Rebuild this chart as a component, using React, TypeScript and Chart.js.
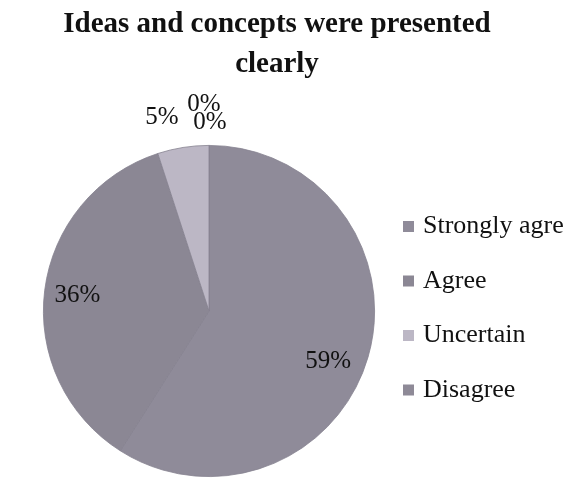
import { useEffect, useRef } from "react";
import { Chart, registerables } from "chart.js";

Chart.register(...registerables);

const titleLines = ["Ideas and concepts were presented", "clearly"];
const categories = ["Strongly agre", "Agree", "Uncertain", "Disagree", "Strongly disagree"];
const legendCount = 4;
const values = [59, 36, 5, 0, 0];
const valueLabels = ["59%", "36%", "5%", "0%", "0%"];
const sliceColors = ["#8f8b99", "#8b8794", "#bcb7c5", "#8e8a97", "#9a96a2"];

// label placement (relative radius and angular shift in degrees)
const labelRadius = [0.78, 0.8, 1.2, 1.25, 1.14];
const labelShift = [6.6, -0.3, -4.7, -1.4, 0.3];

const W = 567;
const H = 479;

const titlePlugin = {
  id: "customTitle",
  afterDraw(chart: any) {
    const ctx = chart.ctx;
    ctx.save();
    ctx.fillStyle = "#111111";
    ctx.font = "bold 29px 'Liberation Serif', 'Times New Roman', serif";
    ctx.textAlign = "center";
    ctx.textBaseline = "alphabetic";
    const baselines = [32, 72];
    titleLines.forEach((t, i) => ctx.fillText(t, 277, baselines[i]));
    ctx.restore();
  },
};

const labelPlugin = {
  id: "sliceLabels",
  afterDatasetsDraw(chart: any) {
    const ctx = chart.ctx;
    const meta = chart.getDatasetMeta(0);
    ctx.save();
    ctx.fillStyle = "#111111";
    ctx.font = "25px 'Liberation Serif', 'Times New Roman', serif";
    ctx.textAlign = "center";
    ctx.textBaseline = "middle";
    meta.data.forEach((arc: any, i: number) => {
      const p = arc.getProps(["x", "y", "startAngle", "endAngle", "outerRadius"], true);
      const mid = (p.startAngle + p.endAngle) / 2 + (labelShift[i] * Math.PI) / 180;
      const r = p.outerRadius * labelRadius[i];
      ctx.fillText(valueLabels[i], p.x + Math.cos(mid) * r, p.y + Math.sin(mid) * r);
    });
    ctx.restore();
  },
};

const legendPlugin = {
  id: "customLegend",
  afterDraw(chart: any) {
    const ctx = chart.ctx;
    const labels = chart.data.labels as string[];
    const colors = chart.data.datasets[0].backgroundColor as string[];
    ctx.save();
    ctx.font = "26px 'Liberation Serif', 'Times New Roman', serif";
    ctx.textAlign = "left";
    ctx.textBaseline = "alphabetic";
    for (let i = 0; i < legendCount; i++) {
      const baseline = 233 + i * 54.5;
      ctx.fillStyle = colors[i];
      ctx.fillRect(403, baseline - 12, 11, 11);
      ctx.fillStyle = "#111111";
      ctx.fillText(labels[i], 423, baseline);
    }
    ctx.restore();
  },
};

export default function App() {
  const ref = useRef<HTMLCanvasElement>(null);
  useEffect(() => {
    if (!ref.current) return;
    const chart = new Chart(ref.current, {
      type: "pie",
      data: {
        labels: categories,
        datasets: [
          {
            data: values,
            backgroundColor: sliceColors,
            borderColor: "#85818f",
            borderWidth: 0.8,
            hoverOffset: 0,
          },
        ],
      },
      options: {
        responsive: false,
        animation: false,
        layout: { padding: { left: 43, right: 192, top: 145, bottom: 2 } },
        plugins: {
          legend: { display: false },
          title: { display: false },
          tooltip: { enabled: false },
        },
      },
      plugins: [titlePlugin, labelPlugin, legendPlugin],
    });
    return () => chart.destroy();
  }, []);
  return (
    <div style={{ position: "absolute", left: 0, top: 0, width: W, height: H, background: "#ffffff" }}>
      <canvas ref={ref} width={W} height={H} style={{ display: "block" }} />
    </div>
  );
}
